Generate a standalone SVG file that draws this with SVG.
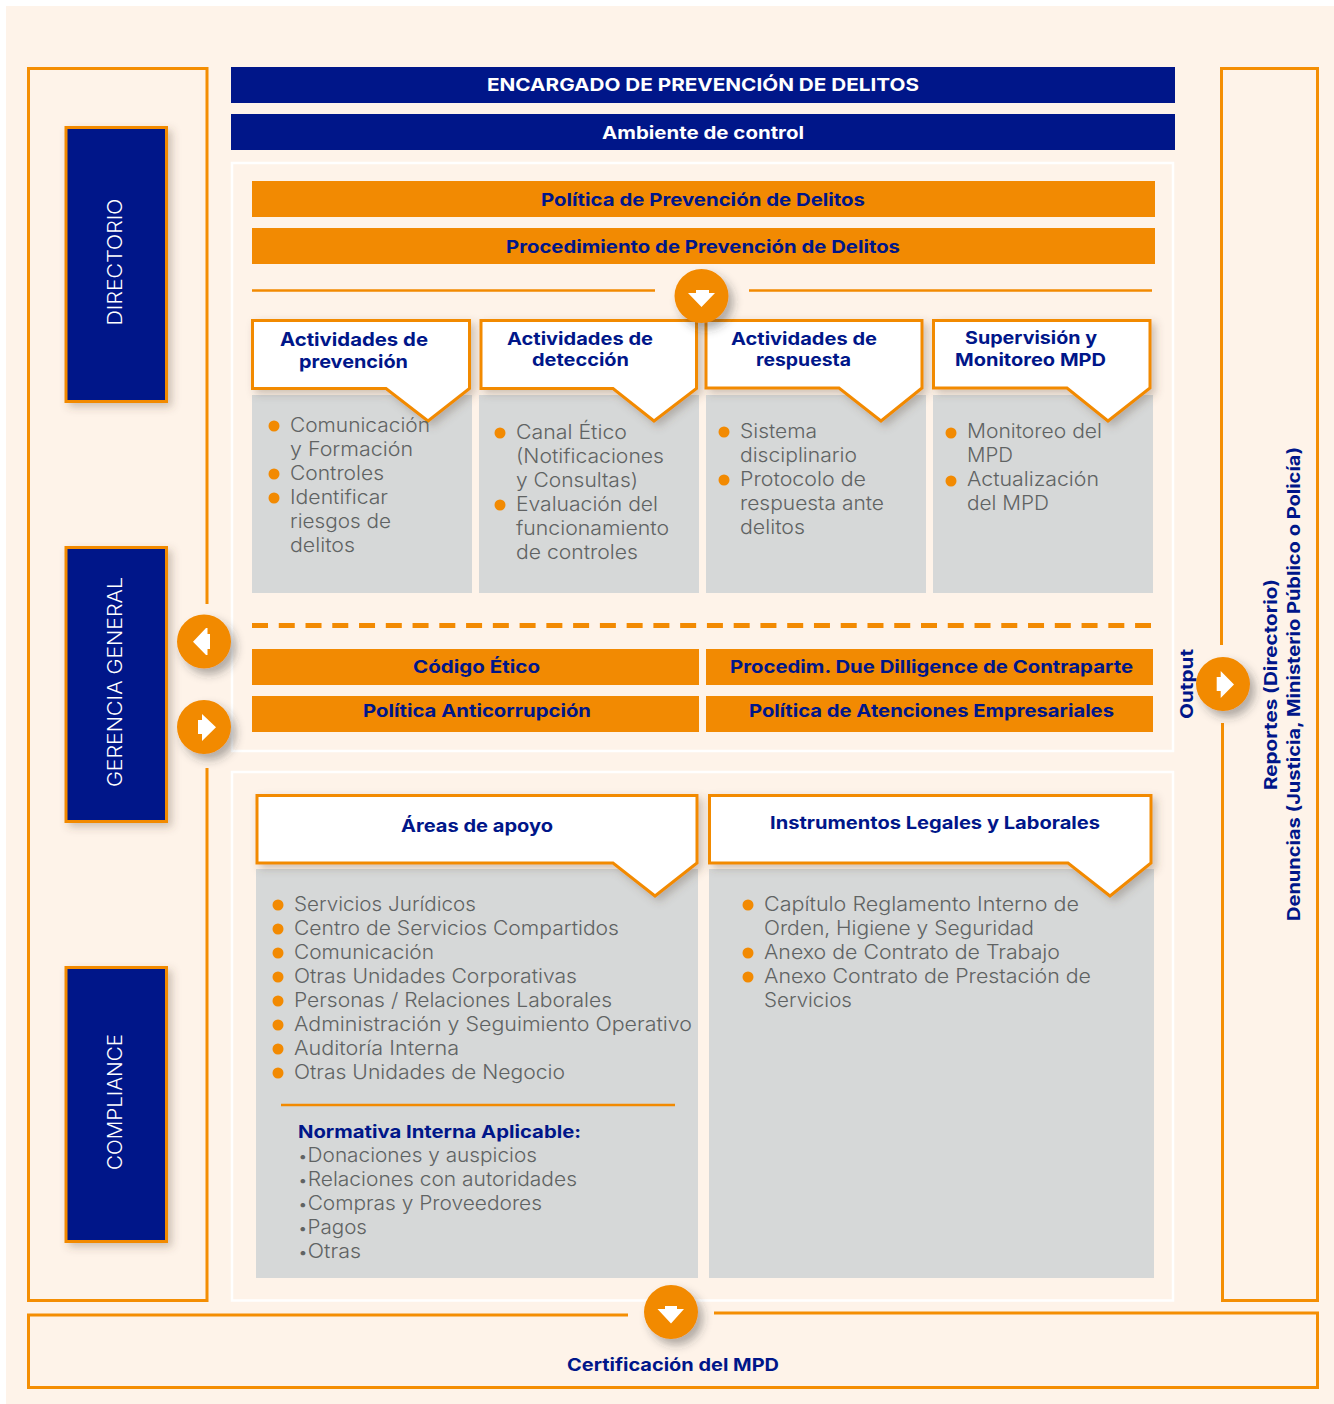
<svg xmlns="http://www.w3.org/2000/svg" width="1334" height="1404" viewBox="0 0 1334 1404">
<style>
text{font-family:"Inter","Liberation Sans",sans-serif}
.t{font-weight:700;fill:#001689;font-size:17.500px;text-anchor:middle}
.w{font-weight:700;fill:#fff;font-size:17.500px;text-anchor:middle}
.b{font-weight:300;fill:#606363;font-size:19.500px}
.v{font-weight:300;fill:#fff;font-size:19.500px;text-anchor:middle}
.navy{fill:#001689}.org{fill:#f28a02}.gray{fill:#d6d8d8}.dot{fill:#f28a02}
.frame{fill:none;stroke:#f48e03;stroke-width:3}
.panel{fill:none;stroke:#fff;stroke-width:2.500}
.call{fill:#fff;stroke:#f28a02;stroke-width:3;filter:url(#sh)}
.side{fill:#001689;stroke:#f28a02;stroke-width:3;filter:url(#sh)}
.ln{fill:none;stroke:#f28a02;stroke-width:2.500}
.circ{fill:#f28a02;filter:url(#sh2)}
.ar{fill:#fff}
</style>
<defs>
<filter id="sh" x="-20%" y="-20%" width="140%" height="140%"><feDropShadow dx="4" dy="4" stdDeviation="4" flood-color="#5a4a3a" flood-opacity="0.3"/></filter>
<filter id="sh2" x="-40%" y="-40%" width="190%" height="190%"><feDropShadow dx="5" dy="6" stdDeviation="5" flood-color="#333" flood-opacity="0.38"/></filter>
</defs>
<rect x="6" y="6" width="1328" height="1398" fill="#fef3e9"/>

<g id="connectors">
<path class="frame" d="M207 604V68.500H28.500V1300.500H207V768"/>
<path class="frame" d="M1221.500 645V68.500H1317.500V1300.500H1222.500V723"/>
<path class="frame" d="M628 1315H28.500V1387.500H1317.500V1313H714"/>
<path class="ln" d="M252 290.500H655M749 290.500H1152"/>
<path d="M252 625.500H1151" fill="none" stroke="#f28a02" stroke-width="5" stroke-dasharray="16 10.760"/>
</g>

<g id="panel-top"><rect class="panel" x="232" y="163" width="941" height="588"/></g>
<g id="panel-bottom"><rect class="panel" x="232" y="772" width="941" height="528.500"/></g>

<g id="encargado"><rect class="navy" x="231" y="67" width="944" height="36"/><text class="w" x="703" y="91" textLength="432" lengthAdjust="spacingAndGlyphs">ENCARGADO DE PREVENCIÓN DE DELITOS</text></g>
<g id="ambiente"><rect class="navy" x="231" y="114" width="944" height="36"/><text class="w" x="703" y="139" textLength="202" lengthAdjust="spacingAndGlyphs">Ambiente de control</text></g>

<g id="directorio"><rect class="side" x="66" y="127.500" width="100.500" height="274"/><text class="v" transform="translate(122 262) rotate(-90)" textLength="127" lengthAdjust="spacingAndGlyphs">DIRECTORIO</text></g>
<g id="gerencia"><rect class="side" x="66" y="547.500" width="100.500" height="274"/><text class="v" transform="translate(122 682) rotate(-90)" textLength="210" lengthAdjust="spacingAndGlyphs">GERENCIA GENERAL</text></g>
<g id="compliance"><rect class="side" x="66" y="967.500" width="100.500" height="274"/><text class="v" transform="translate(122 1102) rotate(-90)" textLength="136" lengthAdjust="spacingAndGlyphs">COMPLIANCE</text></g>

<g id="politica"><rect class="org" x="252" y="181" width="903" height="36"/><text class="t" x="703" y="206" textLength="324" lengthAdjust="spacingAndGlyphs">Política de Prevención de Delitos</text></g>
<g id="procedimiento"><rect class="org" x="252" y="228" width="903" height="36"/><text class="t" x="703" y="253" textLength="394" lengthAdjust="spacingAndGlyphs">Procedimiento de Prevención de Delitos</text></g>

<g id="prevencion">
<rect class="gray" x="252" y="395" width="220" height="198"/>
<path class="call" d="M252.500 320.500H469.500V388.500L428 421L386 388.500H252.500Z"/>
<text class="t" x="354" y="346" style="font-size:18.500px" textLength="148" lengthAdjust="spacingAndGlyphs">Actividades de</text>
<text class="t" x="353.500" y="368" style="font-size:18.500px" textLength="109" lengthAdjust="spacingAndGlyphs">prevención</text>
<circle class="dot" cx="274" cy="426" r="5.500"/><circle class="dot" cx="274" cy="474" r="5.500"/><circle class="dot" cx="274" cy="498" r="5.500"/>
<text class="b" x="290" y="432" textLength="140" lengthAdjust="spacingAndGlyphs">Comunicación</text>
<text class="b" x="290" y="456" textLength="123" lengthAdjust="spacingAndGlyphs">y Formación</text>
<text class="b" x="290" y="480" textLength="94" lengthAdjust="spacingAndGlyphs">Controles</text>
<text class="b" x="290" y="504" textLength="98" lengthAdjust="spacingAndGlyphs">Identificar</text>
<text class="b" x="290" y="528" textLength="101" lengthAdjust="spacingAndGlyphs">riesgos de</text>
<text class="b" x="290" y="552" textLength="65" lengthAdjust="spacingAndGlyphs">delitos</text>
</g>
<g id="deteccion">
<rect class="gray" x="479" y="395" width="220" height="198"/>
<path class="call" d="M481 320.500H696.500V388.500L654 421L613 388.500H481Z"/>
<text class="t" x="580" y="345" textLength="146" lengthAdjust="spacingAndGlyphs">Actividades de</text>
<text class="t" x="580.500" y="366" textLength="97" lengthAdjust="spacingAndGlyphs">detección</text>
<circle class="dot" cx="500" cy="433" r="5.500"/><circle class="dot" cx="500" cy="505" r="5.500"/>
<text class="b" x="516" y="439" textLength="111" lengthAdjust="spacingAndGlyphs">Canal Ético</text>
<text class="b" x="516" y="463" textLength="148" lengthAdjust="spacingAndGlyphs">(Notificaciones</text>
<text class="b" x="516" y="487" textLength="122" lengthAdjust="spacingAndGlyphs">y Consultas)</text>
<text class="b" x="516" y="511" textLength="142" lengthAdjust="spacingAndGlyphs">Evaluación del</text>
<text class="b" x="516" y="535" textLength="153" lengthAdjust="spacingAndGlyphs">funcionamiento</text>
<text class="b" x="516" y="559" textLength="122" lengthAdjust="spacingAndGlyphs">de controles</text>
</g>
<g id="respuesta">
<rect class="gray" x="706" y="395" width="220" height="198"/>
<path class="call" d="M706 320.500H922V388L881 421L839 388H706Z"/>
<text class="t" x="804" y="345" textLength="146" lengthAdjust="spacingAndGlyphs">Actividades de</text>
<text class="t" x="803.500" y="366" textLength="95" lengthAdjust="spacingAndGlyphs">respuesta</text>
<circle class="dot" cx="724" cy="432" r="5.500"/><circle class="dot" cx="724" cy="480" r="5.500"/>
<text class="b" x="740" y="438" textLength="77" lengthAdjust="spacingAndGlyphs">Sistema</text>
<text class="b" x="740" y="462" textLength="117" lengthAdjust="spacingAndGlyphs">disciplinario</text>
<text class="b" x="740" y="486" textLength="126" lengthAdjust="spacingAndGlyphs">Protocolo de</text>
<text class="b" x="740" y="510" textLength="144" lengthAdjust="spacingAndGlyphs">respuesta ante</text>
<text class="b" x="740" y="534" textLength="65" lengthAdjust="spacingAndGlyphs">delitos</text>
</g>
<g id="supervision">
<rect class="gray" x="933" y="395" width="220" height="198"/>
<path class="call" d="M933.500 320.500H1150V388L1108 421L1067 388H933.500Z"/>
<text class="t" x="1031" y="344" textLength="132" lengthAdjust="spacingAndGlyphs">Supervisión y</text>
<text class="t" x="1030.500" y="366" textLength="151" lengthAdjust="spacingAndGlyphs">Monitoreo MPD</text>
<circle class="dot" cx="951" cy="433" r="5.500"/><circle class="dot" cx="951" cy="481" r="5.500"/>
<text class="b" x="967" y="438" textLength="135" lengthAdjust="spacingAndGlyphs">Monitoreo del</text>
<text class="b" x="967" y="462" textLength="46" lengthAdjust="spacingAndGlyphs">MPD</text>
<text class="b" x="967" y="486" textLength="132" lengthAdjust="spacingAndGlyphs">Actualización</text>
<text class="b" x="967" y="510" textLength="82" lengthAdjust="spacingAndGlyphs">del MPD</text>
</g>

<g id="codigo"><rect class="org" x="252" y="649" width="447" height="36"/><text class="t" x="476.500" y="673" textLength="127" lengthAdjust="spacingAndGlyphs">Código Ético</text></g>
<g id="duediligence"><rect class="org" x="706" y="649" width="447" height="36"/><text class="t" x="931.500" y="673" textLength="403" lengthAdjust="spacingAndGlyphs">Procedim. Due Dilligence de Contraparte</text></g>
<g id="anticorrupcion"><rect class="org" x="252" y="696" width="447" height="36"/><text class="t" x="477" y="717" textLength="228" lengthAdjust="spacingAndGlyphs">Política Anticorrupción</text></g>
<g id="atenciones"><rect class="org" x="706" y="696" width="447" height="36"/><text class="t" x="931.500" y="717" textLength="365" lengthAdjust="spacingAndGlyphs">Política de Atenciones Empresariales</text></g>

<g id="areas">
<rect class="gray" x="256" y="869" width="442" height="409"/>
<path class="call" d="M257 795.500H697V863L655 896L613 863H257Z"/>
<text class="t" x="477" y="832" textLength="152" lengthAdjust="spacingAndGlyphs">Áreas de apoyo</text>
<circle class="dot" cx="278" cy="905" r="5.500"/><circle class="dot" cx="278" cy="929" r="5.500"/><circle class="dot" cx="278" cy="953" r="5.500"/><circle class="dot" cx="278" cy="977" r="5.500"/><circle class="dot" cx="278" cy="1001" r="5.500"/><circle class="dot" cx="278" cy="1025" r="5.500"/><circle class="dot" cx="278" cy="1049" r="5.500"/><circle class="dot" cx="278" cy="1073" r="5.500"/>
<text class="b" x="294" y="911" textLength="182" lengthAdjust="spacingAndGlyphs">Servicios Jurídicos</text>
<text class="b" x="294" y="935" textLength="325" lengthAdjust="spacingAndGlyphs">Centro de Servicios Compartidos</text>
<text class="b" x="294" y="959" textLength="140" lengthAdjust="spacingAndGlyphs">Comunicación</text>
<text class="b" x="294" y="983" textLength="283" lengthAdjust="spacingAndGlyphs">Otras Unidades Corporativas</text>
<text class="b" x="294" y="1007" textLength="318" lengthAdjust="spacingAndGlyphs">Personas / Relaciones Laborales</text>
<text class="b" x="294" y="1031" textLength="398" lengthAdjust="spacingAndGlyphs">Administración y Seguimiento Operativo</text>
<text class="b" x="294" y="1055" textLength="165" lengthAdjust="spacingAndGlyphs">Auditoría Interna</text>
<text class="b" x="294" y="1079" textLength="271" lengthAdjust="spacingAndGlyphs">Otras Unidades de Negocio</text>
<path class="ln" d="M281 1105H675"/>
<text class="t" x="298" y="1138" style="text-anchor:start" textLength="283" lengthAdjust="spacingAndGlyphs">Normativa Interna Aplicable:</text>
<text class="b" x="298" y="1162" textLength="239" lengthAdjust="spacingAndGlyphs"><tspan font-size="16">•</tspan>Donaciones y auspicios</text>
<text class="b" x="298" y="1186" textLength="279" lengthAdjust="spacingAndGlyphs"><tspan font-size="16">•</tspan>Relaciones con autoridades</text>
<text class="b" x="298" y="1210" textLength="244" lengthAdjust="spacingAndGlyphs"><tspan font-size="16">•</tspan>Compras y Proveedores</text>
<text class="b" x="298" y="1234" textLength="69" lengthAdjust="spacingAndGlyphs"><tspan font-size="16">•</tspan>Pagos</text>
<text class="b" x="298" y="1258" textLength="63" lengthAdjust="spacingAndGlyphs"><tspan font-size="16">•</tspan>Otras</text>
</g>
<g id="instrumentos">
<rect class="gray" x="709" y="869" width="445" height="409"/>
<path class="call" d="M709.500 795.500H1151V863L1110 896L1068 863H709.500Z"/>
<text class="t" x="935" y="829" textLength="330" lengthAdjust="spacingAndGlyphs">Instrumentos Legales y Laborales</text>
<circle class="dot" cx="748" cy="905" r="5.500"/><circle class="dot" cx="748" cy="953" r="5.500"/><circle class="dot" cx="748" cy="977" r="5.500"/>
<text class="b" x="764" y="911" textLength="315" lengthAdjust="spacingAndGlyphs">Capítulo Reglamento Interno de</text>
<text class="b" x="764" y="935" textLength="270" lengthAdjust="spacingAndGlyphs">Orden, Higiene y Seguridad</text>
<text class="b" x="764" y="959" textLength="296" lengthAdjust="spacingAndGlyphs">Anexo de Contrato de Trabajo</text>
<text class="b" x="764" y="983" textLength="327" lengthAdjust="spacingAndGlyphs">Anexo Contrato de Prestación de</text>
<text class="b" x="764" y="1007" textLength="88" lengthAdjust="spacingAndGlyphs">Servicios</text>
</g>

<g id="output"><text class="t" transform="translate(1193 684) rotate(-90)" textLength="70" lengthAdjust="spacingAndGlyphs">Output</text></g>
<g id="reportes"><text class="t" transform="translate(1277 684.500) rotate(-90)" textLength="211" lengthAdjust="spacingAndGlyphs">Reportes (Directorio)</text>
<text class="t" transform="translate(1300 684) rotate(-90)" textLength="474" lengthAdjust="spacingAndGlyphs">Denuncias (Justicia, Ministerio Público o Policía)</text></g>
<g id="certificacion"><text class="t" x="673" y="1371" textLength="212" lengthAdjust="spacingAndGlyphs">Certificación del MPD</text></g>

<g id="flecha-1"><circle class="circ" cx="701.500" cy="296" r="27"/><path class="ar" d="M696 290H709V293H715L701.500 307L688 293H696Z"/></g>
<g id="flecha-2"><circle class="circ" cx="204" cy="641.500" r="27"/><path class="ar" d="M206 628H207.500V634H210V649H207.500V655H206L193 641.700Z"/></g>
<g id="flecha-3"><circle class="circ" cx="204" cy="727" r="27"/><path class="ar" d="M202 714V720H198V734H202V741L216 727.300Z"/></g>
<g id="flecha-4"><circle class="circ" cx="1223" cy="684" r="27"/><path class="ar" d="M1220.700 671V677H1216.700V691H1220.700V698L1234 684.500Z"/></g>
<g id="flecha-5"><circle class="circ" cx="671" cy="1312" r="27"/><path class="ar" d="M665 1306H677V1309H684L671 1323.500L657.500 1309H665Z"/></g>
</svg>
